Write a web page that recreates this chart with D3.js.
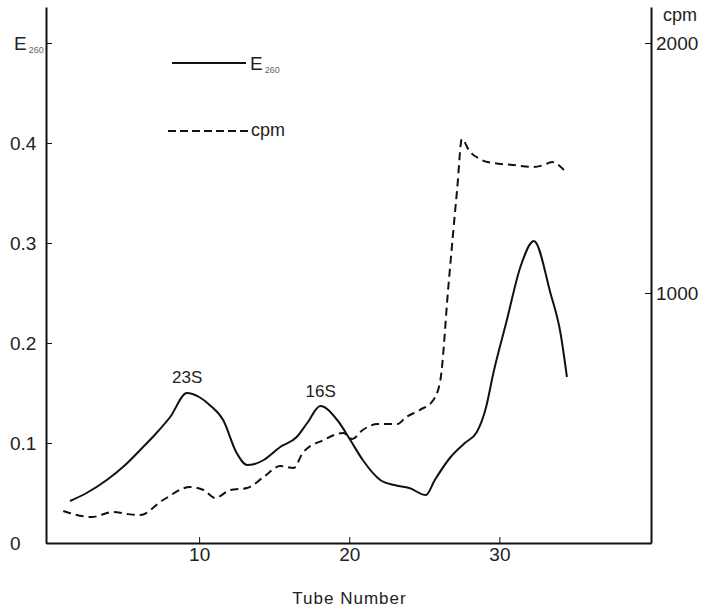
<!DOCTYPE html>
<html>
<head>
<meta charset="utf-8">
<script src="https://cdn.jsdelivr.net/npm/d3@7"></script>
<style>
  body { margin: 0; background: #fff; }
  svg { display: block; font-family: "Liberation Sans", Arial, sans-serif; }
  .axis path, .axis line { stroke: #111; }
  .axis text { fill: #222; font-size: 19px; }
</style>
</head>
<body>
<div id="chart"></div>
<script>
// Tube numbers and E260 absorbance (solid line)
const tubeE = [1.4, 2.5, 3.85, 5.0, 6.07, 7.1, 8.07, 9.18, 10.0, 10.7, 11.6, 12.5, 13.2, 13.7,
  14.3, 15.4, 16.5, 17.2, 18.07, 19.2, 20.07, 20.9, 22.07, 23.0, 24.0, 25.1, 25.7, 26.7,
  27.7, 28.5, 29.1, 29.6, 30.5, 31.4, 32.3, 33.4, 34.07, 34.5];
const e260 = [0.042, 0.050, 0.063, 0.077, 0.093, 0.109, 0.126, 0.150, 0.146, 0.138, 0.123, 0.090,
  0.078, 0.079, 0.083, 0.096, 0.106, 0.120, 0.137, 0.123, 0.103, 0.083, 0.063, 0.058, 0.055,
  0.048, 0.063, 0.085, 0.100, 0.111, 0.135, 0.170, 0.223, 0.276, 0.302, 0.250, 0.210, 0.166];

// Tube numbers and counts per minute (dashed line)
const tubeCpm = [0.95, 2.85, 4.27, 5.2, 6.07, 7.6, 9.4, 10.3, 11.07, 12.07, 13.2, 14.3, 15.4,
  16.3, 16.9, 18.3, 19.6, 20.2, 20.9, 21.9, 23.2, 23.8, 24.7, 25.6, 26.07, 26.6, 27.2, 27.5,
  28.0, 28.7, 29.2, 30.9, 32.3, 32.96, 33.5, 34.3];
const cpm = [128, 104, 124, 116, 112, 172, 224, 212, 180, 212, 220, 264, 308, 300, 360, 412,
  440, 416, 452, 476, 476, 504, 532, 572, 652, 1024, 1424, 1616, 1568, 1536, 1524, 1512,
  1504, 1512, 1524, 1492];

const xTicks = [10, 20, 30];
const eTicks = [0, 0.1, 0.2, 0.3, 0.4, 0.5];
const cpmTicks = [1000, 2000];
const peakLabels = [{text: '23S', tube: 9.2, e: 0.16}, {text: '16S', tube: 18.1, e: 0.146}];

const W = 710, H = 611;
const mLeft = 46, mRight = 651, mTop = 7, mBottom = 543;

const svg = d3.select('#chart').append('svg')
  .attr('width', W).attr('height', H);

const x = d3.scaleLinear().domain([-0.2, 40.1]).range([mLeft, mRight]);
const y = d3.scaleLinear().domain([0, 0.536]).range([mBottom, mTop]);
const yc = d3.scaleLinear().domain([0, 0.536 * 4000]).range([mBottom, mTop]);

// Bottom axis
const xg = svg.append('g').attr('class', 'axis')
  .attr('transform', `translate(0,${mBottom})`)
  .call(d3.axisBottom(x).tickValues(xTicks).tickSizeInner(-6).tickSizeOuter(0).tickPadding(5));
xg.select('.domain').attr('stroke-width', 2);

// Left axis (E260)
const yg = svg.append('g').attr('class', 'axis')
  .attr('transform', `translate(${mLeft},0)`)
  .call(d3.axisLeft(y).tickValues(eTicks).tickSizeInner(-6).tickSizeOuter(0)
    .tickFormat(d => d === 0 ? '0' : d === 0.5 ? '' : d3.format('.1f')(d)));
yg.select('.domain').attr('stroke-width', 2);
yg.selectAll('text').attr('text-anchor', 'start').attr('x', 10 - mLeft);

const eLab = svg.append('text').attr('x', 14).attr('y', y(0.5) + 7)
  .attr('fill', '#222').attr('font-size', 19).text('E');
eLab.append('tspan').attr('font-size', 9).attr('fill', '#666').attr('dx', 2).attr('dy', 3).text('260');

// Right axis (cpm)
const rg = svg.append('g').attr('class', 'axis')
  .attr('transform', `translate(${mRight},0)`)
  .call(d3.axisRight(yc).tickValues(cpmTicks).tickSizeInner(-6).tickSizeOuter(0).tickPadding(5)
    .tickFormat(d3.format('d')));
rg.select('.domain').attr('stroke-width', 2);
svg.append('text').attr('x', 663).attr('y', 21)
  .attr('fill', '#222').attr('font-size', 18).text('cpm');

// Axis title
svg.append('text').attr('x', (mLeft + mRight) / 2 + 1).attr('y', 604)
  .attr('text-anchor', 'middle').attr('fill', '#222').attr('font-size', 17)
  .attr('letter-spacing', 1).text('Tube Number');

// Curves
const lineE = d3.line().x((d, i) => x(tubeE[i])).y(d => y(d)).curve(d3.curveMonotoneX);
const lineC = d3.line().x((d, i) => x(tubeCpm[i])).y(d => yc(d)).curve(d3.curveMonotoneX);

svg.append('path').datum(e260).attr('d', lineE)
  .attr('fill', 'none').attr('stroke', '#111').attr('stroke-width', 2);
svg.append('path').datum(cpm).attr('d', lineC)
  .attr('fill', 'none').attr('stroke', '#111').attr('stroke-width', 2)
  .attr('stroke-dasharray', '8,5');

// Peak labels
svg.selectAll('.peak').data(peakLabels).enter().append('text')
  .attr('class', 'peak')
  .attr('x', d => x(d.tube)).attr('y', d => y(d.e))
  .attr('text-anchor', 'middle').attr('fill', '#222').attr('font-size', 17)
  .text(d => d.text);

// Legend
const lg = svg.append('g');
lg.append('line').attr('x1', 172).attr('x2', 246).attr('y1', 63).attr('y2', 63)
  .attr('stroke', '#111').attr('stroke-width', 2);
const lt = lg.append('text').attr('x', 250).attr('y', 70).attr('fill', '#222').attr('font-size', 19).text('E');
lt.append('tspan').attr('font-size', 9).attr('fill', '#666').attr('dx', 2).attr('dy', 3).text('260');
lg.append('line').attr('x1', 168).attr('x2', 248).attr('y1', 131).attr('y2', 131)
  .attr('stroke', '#111').attr('stroke-width', 2).attr('stroke-dasharray', '8,4');
lg.append('text').attr('x', 251).attr('y', 136).attr('fill', '#222').attr('font-size', 18).text('cpm');
</script>
</body>
</html>
